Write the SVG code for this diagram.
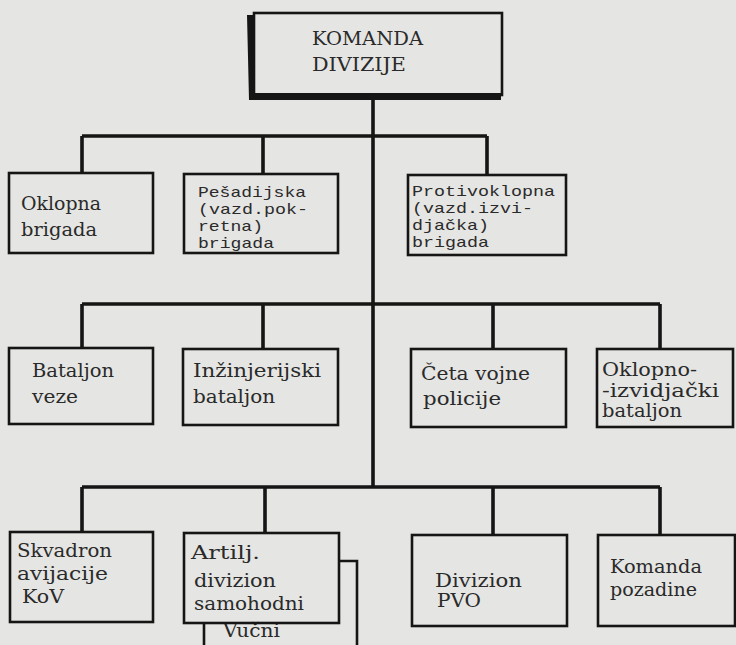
<svg xmlns="http://www.w3.org/2000/svg" width="736" height="645" viewBox="0 0 736 645">
<style>
.box{fill:none;stroke:#151515;stroke-width:2.6}
.ln{fill:none;stroke:#151515;stroke-width:3.6}
.t{font-family:"DejaVu Serif","Liberation Serif",serif;font-size:18px;fill:#2a2a2a}
.m{font-family:"Liberation Mono","DejaVu Sans Mono",monospace;font-size:15px;fill:#2a2a2a}
.h{font-family:"DejaVu Serif","Liberation Serif",serif;font-size:19px;fill:#2a2a2a}
</style>
<rect x="0" y="0" width="736" height="645" fill="#e5e5e3"/>
<g id="connectors">
<path class="ln" d="M373,97 V487"/>
<path class="ln" d="M82,136 H487 M82,136 V173 M263,136 V174 M487,136 V175"/>
<path class="ln" d="M82,304 H660 M82,304 V348 M263,304 V349 M493,304 V349 M660,304 V349"/>
<path class="ln" d="M82,487 H660 M82,487 V532 M265,487 V533 M493,487 V535 M660,487 V535"/>
</g>
<g id="komanda-divizije">
<rect class="box" x="254" y="13" width="248" height="82" stroke-width="3"/>
<path d="M247,15 H255 V93 H501 V100 H249 Z" fill="#151515"/>
<text class="h" x="312" y="45" textLength="111" lengthAdjust="spacingAndGlyphs">KOMANDA</text>
<text class="h" x="312" y="71" textLength="94" lengthAdjust="spacingAndGlyphs">DIVIZIJE</text>
</g>
<g id="oklopna-brigada">
<rect class="box" x="9" y="173" width="144" height="80"/>
<text class="t" x="21" y="210" textLength="80" lengthAdjust="spacingAndGlyphs">Oklopna</text>
<text class="t" x="21" y="236" textLength="76" lengthAdjust="spacingAndGlyphs">brigada</text>
</g>
<g id="pesadijska-brigada">
<rect class="box" x="184" y="174" width="154" height="79"/>
<text class="m" x="198" y="197" textLength="108" lengthAdjust="spacingAndGlyphs">Pešadijska</text>
<text class="m" x="198" y="214" textLength="110" lengthAdjust="spacingAndGlyphs">(vazd.pok-</text>
<text class="m" x="198" y="231" textLength="65" lengthAdjust="spacingAndGlyphs">retna)</text>
<text class="m" x="198" y="248" textLength="76" lengthAdjust="spacingAndGlyphs">brigada</text>
</g>
<g id="protivoklopna-brigada">
<rect class="box" x="408" y="175" width="158" height="80"/>
<text class="m" x="412" y="196" textLength="143" lengthAdjust="spacingAndGlyphs">Protivoklopna</text>
<text class="m" x="412" y="213" textLength="121" lengthAdjust="spacingAndGlyphs">(vazd.izvi-</text>
<text class="m" x="412" y="230" textLength="77" lengthAdjust="spacingAndGlyphs">djačka)</text>
<text class="m" x="412" y="247" textLength="77" lengthAdjust="spacingAndGlyphs">brigada</text>
</g>
<g id="bataljon-veze">
<rect class="box" x="9" y="348" width="144" height="76"/>
<text class="t" x="32" y="377" textLength="82" lengthAdjust="spacingAndGlyphs">Bataljon</text>
<text class="t" x="32" y="403" textLength="46" lengthAdjust="spacingAndGlyphs">veze</text>
</g>
<g id="inzinjerijski-bataljon">
<rect class="box" x="183" y="349" width="155" height="76"/>
<text class="t" x="193" y="377" textLength="128" lengthAdjust="spacingAndGlyphs">Inžinjerijski</text>
<text class="t" x="193" y="403" textLength="82" lengthAdjust="spacingAndGlyphs">bataljon</text>
</g>
<g id="ceta-vojne-policije">
<rect class="box" x="411" y="349" width="155" height="78"/>
<text class="t" x="421" y="380" textLength="109" lengthAdjust="spacingAndGlyphs">Četa vojne</text>
<text class="t" x="423" y="405" textLength="78" lengthAdjust="spacingAndGlyphs">policije</text>
</g>
<g id="oklopno-izvidjacki-bataljon">
<rect class="box" x="597" y="349" width="136" height="78"/>
<text class="t" x="602" y="376" textLength="95" lengthAdjust="spacingAndGlyphs">Oklopno-</text>
<text class="t" x="602" y="397" textLength="117" lengthAdjust="spacingAndGlyphs">-izvidjački</text>
<text class="t" x="602" y="417" textLength="80" lengthAdjust="spacingAndGlyphs">bataljon</text>
</g>
<g id="skvadron-avijacije">
<rect class="box" x="10" y="532" width="143" height="90"/>
<text class="t" x="17" y="557" textLength="95" lengthAdjust="spacingAndGlyphs">Skvadron</text>
<text class="t" x="17" y="580" textLength="91" lengthAdjust="spacingAndGlyphs">avijacije</text>
<text class="t" x="22" y="603" textLength="42" lengthAdjust="spacingAndGlyphs">KoV</text>
</g>
<g id="vucni">
<path class="box" d="M339,561 H357 V645 M204,623 V645"/>
<text class="t" x="223" y="637" textLength="57" lengthAdjust="spacingAndGlyphs">Vučni</text>
</g>
<g id="artiljerijski-divizion">
<rect class="box" x="184" y="533" width="155" height="90"/>
<text class="t" x="191" y="559" textLength="69" lengthAdjust="spacingAndGlyphs">Artilj.</text>
<text class="t" x="194" y="587" textLength="82" lengthAdjust="spacingAndGlyphs">divizion</text>
<text class="t" x="194" y="610" textLength="110" lengthAdjust="spacingAndGlyphs">samohodni</text>
</g>
<g id="divizion-pvo">
<rect class="box" x="412" y="535" width="155" height="91"/>
<text class="t" x="435" y="587" textLength="87" lengthAdjust="spacingAndGlyphs">Divizion</text>
<text class="t" x="437" y="607" textLength="44" lengthAdjust="spacingAndGlyphs">PVO</text>
</g>
<g id="komanda-pozadine">
<rect class="box" x="598" y="535" width="137" height="91"/>
<text class="t" x="610" y="573" textLength="92" lengthAdjust="spacingAndGlyphs">Komanda</text>
<text class="t" x="610" y="596" textLength="87" lengthAdjust="spacingAndGlyphs">pozadine</text>
</g>
</svg>
